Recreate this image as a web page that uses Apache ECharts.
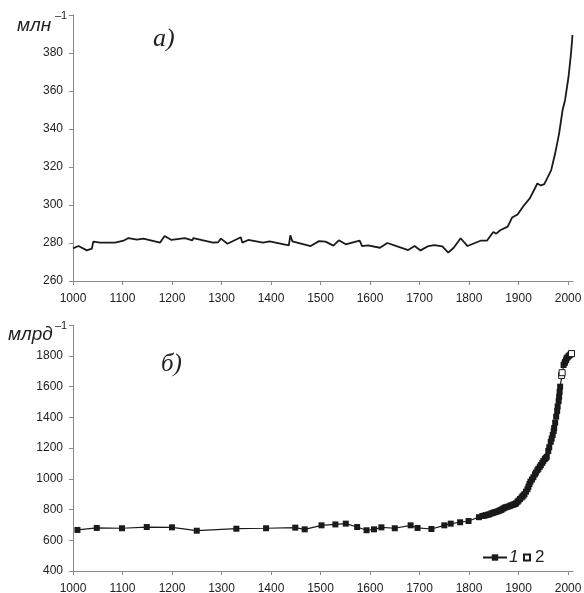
<!DOCTYPE html>
<html>
<head>
<meta charset="utf-8">
<script src="https://cdn.jsdelivr.net/npm/echarts@6/dist/echarts.min.js"></script>
<style>
  html, body { margin: 0; padding: 0; background: #fff; }
  #chart { width: 584px; height: 593px; }
</style>
</head>
<body>
<div id="chart"></div>
<script>
// годы по оси X
const xTicks = [1000, 1100, 1200, 1300, 1400, 1500, 1600, 1700, 1800, 1900, 2000];

// а) CO2, млн^-1
const co2Years = [1000, 1011, 1028, 1038, 1041, 1055, 1085, 1102, 1112, 1129, 1142, 1176, 1185, 1199, 1226, 1241, 1243, 1283, 1293, 1299, 1312, 1339, 1342, 1354, 1384, 1397, 1436, 1439, 1443, 1480, 1497, 1510, 1526, 1537, 1551, 1579, 1584, 1596, 1620, 1635, 1655, 1677, 1690, 1702, 1718, 1730, 1746, 1758, 1769, 1783, 1797, 1823, 1836, 1849, 1855, 1863, 1878, 1887, 1898, 1910, 1923, 1938, 1945, 1952, 1966, 1974, 1982, 1989, 1994, 2001, 2006, 2009];
const co2Values = [277.2, 278.4, 276.1, 277, 280.7, 280.2, 280.2, 281.2, 282.6, 281.8, 282.3, 280.2, 283.7, 281.6, 282.6, 281.4, 282.6, 280.2, 280.4, 282.3, 279.6, 283, 280.2, 281.6, 280.2, 280.9, 278.8, 284, 280.9, 278.4, 281, 280.7, 278.6, 281.4, 279.3, 281.2, 278.4, 278.8, 277.5, 280, 278.2, 276.3, 278.4, 276.1, 278.4, 278.9, 278.2, 274.9, 277.5, 282.5, 278.4, 281.2, 281.2, 285.8, 284.9, 286.7, 288.6, 293.4, 295, 299.5, 303.6, 311.3, 310.3, 311, 318.4, 327.2, 337.7, 350, 355.3, 367.5, 379.8, 389.5];
const co2Ticks = [260, 280, 300, 320, 340, 360, 380];

// б) CH4, млрд^-1 — ряд 1
const ch4Years1 = [1009, 1048, 1099, 1149, 1200, 1250, 1330, 1390, 1449, 1468, 1502, 1530, 1551, 1574, 1593, 1608, 1623, 1650, 1682, 1696, 1724, 1750, 1763, 1782, 1799, 1820, 1827, 1831, 1834, 1838, 1841, 1845, 1848, 1851, 1854, 1858, 1861, 1864, 1866, 1869, 1872, 1875, 1878, 1882, 1885, 1888, 1890, 1893, 1895, 1898, 1900, 1903, 1906, 1908, 1910, 1912, 1915, 1918, 1920, 1922, 1924, 1927, 1930, 1933, 1935, 1938, 1940, 1943, 1945, 1948, 1950, 1953, 1955, 1957, 1960, 1962, 1965, 1967, 1969, 1971, 1972, 1974, 1976, 1978, 1979, 1981, 1982, 1983, 1984, 1991, 1993, 1994, 1996, 1997, 1999, 2001, 2003, 2005, 2007, 2008];
const ch4Values1 = [667, 680, 678, 686, 684, 662, 675, 678, 682, 671, 697, 703, 708, 686, 665, 671, 684, 678, 697, 680, 673, 697, 708, 717, 725, 750, 758, 760, 763, 766, 769, 774, 778, 781, 784, 788, 792, 796, 800, 806, 812, 815, 818, 822, 827, 830, 833, 836, 840, 850, 858, 868, 878, 885, 892, 900, 916, 932, 948, 965, 981, 995, 1010, 1028, 1040, 1055, 1065, 1078, 1089, 1103, 1115, 1128, 1135, 1143, 1180, 1205, 1240, 1262, 1285, 1310, 1330, 1365, 1404, 1440, 1470, 1505, 1534, 1565, 1599, 1740, 1752, 1760, 1772, 1783, 1790, 1797, 1803, 1808, 1813, 1816];
// ряд 2
const ch4Years2 = [1987, 1988, 2007];
const ch4Values2 = [1672, 1690, 1814];
const ch4Ticks = [400, 600, 800, 1000, 1200, 1400, 1600, 1800];

const pairs = (xs, ys) => xs.map((x, i) => [x, ys[i]]);

const axisGray = '#8a8a8a';
const labelStyle = { color: '#222', fontSize: 12, fontFamily: 'Liberation Sans', formatter: v => String(v) };

const makeX = (gridIndex) => ({
  type: 'value',
  gridIndex,
  min: 1000,
  max: 2010,
  interval: 100,
  axisLine: { show: true, lineStyle: { color: axisGray, width: 1 } },
  axisTick: { show: true, length: 4, lineStyle: { color: axisGray }, customValues: xTicks },
  axisLabel: { ...labelStyle, margin: 12, customValues: xTicks },
  splitLine: { show: false },
});

const makeY = (gridIndex, min, max, interval, labels) => ({
  type: 'value',
  gridIndex,
  min,
  max,
  interval,
  axisLine: { show: true, lineStyle: { color: axisGray, width: 1 } },
  axisTick: { show: true, length: 4, lineStyle: { color: axisGray } },
  axisLabel: { ...labelStyle, margin: 10, customValues: labels },
  splitLine: { show: false },
});

const chart = echarts.init(document.getElementById('chart'));

chart.setOption({
  animation: false,
  grid: [
    { left: 73, right: 11, top: 15, bottom: 312, outerBoundsMode: 'none' },
    { left: 73, right: 11, top: 325, bottom: 22, outerBoundsMode: 'none' },
  ],
  xAxis: [makeX(0), makeX(1)],
  yAxis: [
    makeY(0, 260, 400, 20, co2Ticks),
    makeY(1, 400, 2000, 200, ch4Ticks),
  ],
  legend: [
    {
      left: 477,
      top: 544,
      itemWidth: 24,
      itemHeight: 8,
      itemGap: 6,
      data: ['1'],
      textStyle: { color: '#222', fontSize: 17, fontStyle: 'italic', fontFamily: 'Liberation Sans', padding: [0, 0, 0, -3] },
    },
    {
      left: 518,
      top: 544,
      icon: 'rect',
      itemWidth: 6,
      itemHeight: 6,
      data: ['2'],
      textStyle: { color: '#222', fontSize: 17, fontFamily: 'Liberation Sans' },
    },
  ],
  graphic: [
    { type: 'text', left: 153, top: 26, style: { text: 'а)', font: 'italic 26px "Liberation Serif"', fill: '#222' } },
    { type: 'text', left: 161, top: 352, style: { text: 'б)', font: 'italic 25px "Liberation Serif"', fill: '#222' } },
    { type: 'text', x: 17, y: 26, style: { text: 'млн', font: 'italic 19px "Liberation Sans"', fill: '#222', verticalAlign: 'middle' } },
    { type: 'text', x: 55, y: 16, style: { text: '–1', font: '11px "Liberation Sans"', fill: '#222', verticalAlign: 'middle' } },
    { type: 'text', x: 8, y: 335, style: { text: 'млрд', font: 'italic 19px "Liberation Sans"', fill: '#222', verticalAlign: 'middle' } },
    { type: 'text', x: 55, y: 326, style: { text: '–1', font: '11px "Liberation Sans"', fill: '#222', verticalAlign: 'middle' } },
  ],
  series: [
    {
      name: 'co2',
      type: 'line',
      xAxisIndex: 0,
      yAxisIndex: 0,
      data: pairs(co2Years, co2Values),
      symbol: 'none',
      lineStyle: { color: '#1a1a1a', width: 1.8 },
    },
    {
      name: '1',
      type: 'line',
      xAxisIndex: 1,
      yAxisIndex: 1,
      data: pairs(ch4Years1, ch4Values1),
      symbol: 'rect',
      symbolSize: 6,
      showAllSymbol: true,
      itemStyle: { color: '#1a1a1a' },
      lineStyle: { color: '#1a1a1a', width: 1.2 },
    },
    {
      name: '2',
      type: 'scatter',
      xAxisIndex: 1,
      yAxisIndex: 1,
      data: pairs(ch4Years2, ch4Values2),
      symbol: 'rect',
      symbolSize: 6,
      itemStyle: { color: '#fff', borderColor: '#1a1a1a', borderWidth: 1, opacity: 1 },
      z: 3,
    },
  ],
});
</script>
</body>
</html>
